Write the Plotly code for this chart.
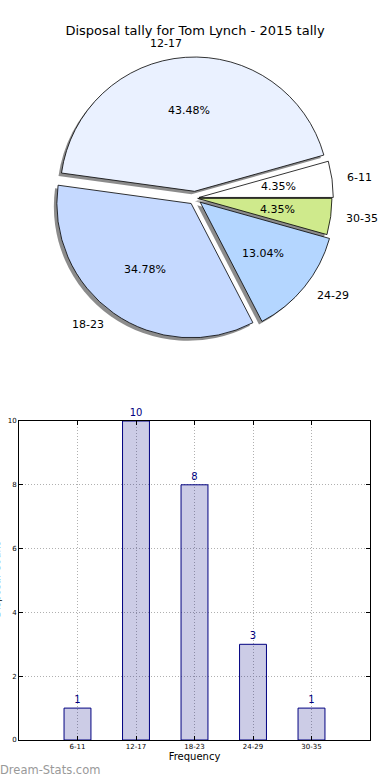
import math
import plotly.graph_objects as go

# ---- data ----
title_text = "Disposal tally for Tom Lynch - 2015 tally"
categories = ["6-11", "12-17", "18-23", "24-29", "30-35"]
counts = [1, 10, 8, 3, 1]
pie_colors = ["#ffffff", "#eaf1ff", "#c5d9ff", "#b4d6ff", "#cfea8c"]
pulls = [0.03, 0.05, 0.05, 0.05, 0.02]
y_ticks = [0, 2, 4, 6, 8, 10]
x_title = "Frequency"
y_title = "Disposal Count"
watermark = "Dream-Stats.com"

W, H = 390, 780
FONT = "DejaVu Sans"

# pie geometry (pixels)
cx, cy, half = 195, 198, 141
R = half / (1 + max(pulls))          # plotly's pie radius inside its domain
tbox = 190                            # half-size of the hidden pixel-scaled text axes

def pie_domain(h, dx=0, dy=0):
    return dict(x=[max(0, (cx + dx - h) / W), min(1, (cx + dx + h) / W)],
                y=[1 - (cy + dy + h) / H, 1 - (cy + dy - h) / H])

# plotly lays counterclockwise slices clockwise of `rotation`; start first slice at 3 o'clock
total = sum(counts)
rotation = 90 - 360 * counts[0] / total

common = dict(labels=categories, values=counts, sort=False,
              direction="counterclockwise", rotation=rotation,
              hoverinfo="skip", showlegend=False, textinfo="none")

fig = go.Figure()
# shadow
fig.add_trace(go.Pie(**common, pull=pulls, domain=pie_domain(half, -3, 3),
                     marker=dict(colors=["rgba(0,0,0,0.45)"] * len(counts),
                                 line=dict(width=0))))
# main pie
fig.add_trace(go.Pie(**common, pull=pulls, domain=pie_domain(half),
                     marker=dict(colors=pie_colors, line=dict(color="black", width=0.8))))

# pie text (percent at 0.6 r, labels at 1.1 r, as matplotlib places them),
# as annotations on a hidden pixel-scaled axis pair centred on the pie
pie_annotations = []
cum = 0
for lab, v, p in zip(categories, counts, pulls):
    mid = math.radians(360 * (cum + v / 2) / total)
    cum += v
    c, s = math.cos(mid), math.sin(mid)
    pie_annotations.append(dict(
        text=f"{100 * v / total:.2f}%", xref="x2", yref="y2",
        x=(p + 0.6) * R * c, y=(p + 0.6) * R * s, xanchor="center", yanchor="middle",
        showarrow=False, font=dict(family=FONT, size=11, color="black")))
    pie_annotations.append(dict(
        text=lab, xref="x2", yref="y2",
        x=(p + 1.1) * R * c, y=(p + 1.1) * R * s,
        xanchor="left" if c > 0 else "right", yanchor="middle",
        showarrow=False, font=dict(family=FONT, size=11, color="black")))

# bar chart (navy at 20% opacity, grid shows through like the original)
fig.add_trace(go.Bar(x=categories, y=counts, width=0.46,
                     marker=dict(color="rgba(0,0,128,0.2)", line=dict(color="#000080", width=1)),
                     text=[str(c) for c in counts], textposition="outside",
                     textfont=dict(family=FONT, size=10, color="#000080"),
                     cliponaxis=False, showlegend=False, hoverinfo="skip"))

axis_common = dict(showline=True, linecolor="black", linewidth=1, mirror="allticks",
                   ticks="inside", ticklen=4, tickcolor="black",
                   showgrid=True, gridcolor="#b0b0b0", griddash="1px,2px", gridwidth=1,
                   zeroline=False, tickfont=dict(family=FONT, size=7, color="black"),
                   automargin=False)
td = dict(x=[(cx - tbox) / W, (cx + tbox) / W], y=[1 - (cy + tbox) / H, 1 - (cy - tbox) / H])
hidden = dict(visible=False, showgrid=False, zeroline=False, fixedrange=True)

fig.update_layout(
    width=W, height=H, margin=dict(l=0, r=0, t=0, b=0),
    paper_bgcolor="white", plot_bgcolor="rgba(0,0,0,0)",
    title=dict(text=title_text, x=0.5, xanchor="center", y=1 - 30 / H, yanchor="middle",
               font=dict(family=FONT, size=13, color="black")),
    xaxis=dict(**axis_common, domain=[19 / W, 370 / W], range=[-1, 5],
               title=dict(text=x_title, font=dict(family=FONT, size=10, color="black"),
                          standoff=2)),
    yaxis=dict(**axis_common, domain=[1 - 740 / H, 1 - 421 / H], range=[0, 10],
               tickvals=y_ticks),
    xaxis2=dict(**hidden, domain=td["x"], range=[-tbox, tbox], anchor="y2"),
    yaxis2=dict(**hidden, domain=td["y"], range=[-tbox, tbox], anchor="x2"),
    annotations=pie_annotations + [
        dict(text=watermark, xref="paper", yref="paper", x=-0.005, y=1 - 770 / H,
             xanchor="left", yanchor="middle", showarrow=False,
             font=dict(family=FONT, size=11.5, color="#999999")),
        dict(text=y_title, xref="paper", yref="paper", x=3 / W, y=1 - 580 / H,
             xanchor="right", yanchor="middle", textangle=-90, showarrow=False,
             font=dict(family=FONT, size=10, color="black")),
    ],
)

fig.write_html("out.html", config={"displayModeBar": False},
               post_script="document.body.style.margin='0';document.body.style.padding='0';")
